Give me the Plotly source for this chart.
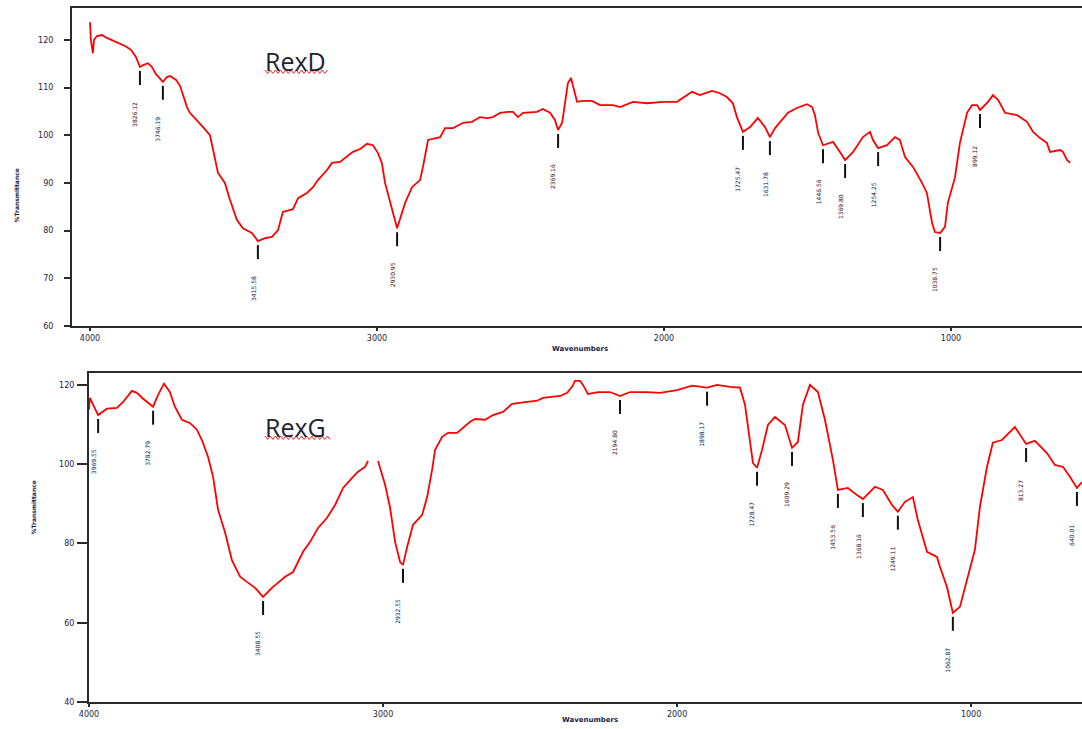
import plotly.graph_objects as go

W, H = 1082, 729

# ---------------- data ----------------
rexd_wavenumber = [4000, 3997, 3990, 3986, 3976, 3958, 3941, 3913, 3878, 3857, 3840, 3826, 3815, 3798,
                   3784, 3770, 3746, 3732, 3721, 3700, 3686, 3662, 3652, 3606, 3582, 3571, 3554, 3530,
                   3512, 3488, 3467, 3436, 3415, 3390, 3366, 3345, 3328, 3293, 3275, 3244, 3223, 3206,
                   3174, 3157, 3129, 3084, 3059, 3035, 3014, 2997, 2983, 2972, 2948, 2930, 2902, 2878,
                   2850, 2840, 2822, 2780, 2763, 2735, 2700, 2669, 2641, 2617, 2596, 2571, 2544, 2526,
                   2509, 2491, 2443, 2422, 2397, 2380, 2369, 2355, 2345, 2335, 2324, 2317, 2303, 2282,
                   2251, 2223, 2178, 2153, 2108, 2059, 2003, 1955, 1902, 1875, 1833, 1805, 1781, 1760,
                   1746, 1725, 1700, 1673, 1648, 1631, 1613, 1568, 1537, 1502, 1484, 1474, 1463, 1446,
                   1411, 1387, 1369, 1341, 1307, 1282, 1272, 1254, 1223, 1195, 1178, 1160, 1132, 1101,
                   1084, 1066, 1056, 1038, 1021, 1011, 986, 969, 944, 927, 909, 899, 871, 854, 836,
                   812, 770, 735, 714, 690, 666, 655, 620, 610, 596, 585]
rexd_transmittance = [123.7, 120.0, 117.2, 120.0, 120.8, 121.0, 120.4, 119.7, 118.7, 117.9, 116.4, 114.3,
                      114.7, 115.1, 114.3, 112.8, 111.2, 112.2, 112.4, 111.6, 110.3, 105.9, 104.7, 101.7,
                      100.0, 96.9, 92.1, 90.0, 86.4, 82.2, 80.5, 79.5, 77.8, 78.4, 78.7, 80.1, 83.9, 84.5,
                      86.8, 87.9, 89.1, 90.6, 92.7, 94.2, 94.4, 96.5, 97.1, 98.2, 97.9, 96.3, 94.2, 90.0,
                      84.9, 80.5, 85.8, 89.1, 90.6, 93.3, 99.0, 99.6, 101.5, 101.5, 102.6, 102.8, 103.8,
                      103.6, 103.8, 104.7, 104.9, 104.9, 103.8, 104.7, 104.9, 105.5, 104.7, 103.2, 101.1,
                      102.6, 106.7, 110.9, 112.0, 110.1, 107.0, 107.2, 107.2, 106.3, 106.3, 105.9, 107.0,
                      106.7, 107.0, 107.0, 109.1, 108.4, 109.3, 108.8, 108.0, 106.7, 103.8, 100.7, 101.7,
                      103.6, 101.7, 99.6, 101.5, 104.7, 105.7, 106.5, 105.9, 104.2, 100.5, 97.9, 98.6,
                      96.5, 94.8, 96.5, 99.6, 100.7, 99.0, 97.3, 97.9, 99.6, 99.0, 95.4, 93.3, 90.0, 87.9,
                      81.6, 79.7, 79.5, 80.8, 85.8, 91.2, 98.4, 104.7, 106.3, 106.3, 105.3, 107.0, 108.4,
                      107.4, 104.7, 104.2, 102.8, 100.7, 99.4, 98.4, 96.5, 96.9, 96.5, 94.8, 94.2]
rexd_peak_wavenumber = [3826, 3746, 3415, 2930, 2369, 1725, 1631, 1446, 1369, 1254, 1038, 899]
rexd_peak_transmittance = [114.3, 111.2, 77.8, 80.5, 101.1, 100.7, 99.6, 97.9, 94.8, 97.3, 79.5, 105.3]
rexd_peak_labels = ["3826.12", "3746.19", "3415.58", "2930.95", "2369.16", "1725.47", "1631.78",
                    "1446.56", "1369.80", "1254.25", "1038.75", "899.12"]

rexg_wavenumber = [4000, 3997, 3969, 3939, 3905, 3884, 3854, 3837, 3816, 3782, 3765, 3745, 3725, 3708,
                   3684, 3657, 3633, 3616, 3595, 3578, 3561, 3537, 3514, 3486, 3463, 3435, 3408, 3378,
                   3333, 3306, 3272, 3248, 3221, 3191, 3163, 3136, 3106, 3085, 3061, 3051, 3034, 3017,
                   2993, 2976, 2959, 2942, 2932, 2918, 2898, 2867, 2850, 2833, 2823, 2799, 2779, 2748,
                   2728, 2704, 2687, 2653, 2626, 2592, 2561, 2527, 2476, 2456, 2398, 2374, 2357, 2347,
                   2330, 2320, 2303, 2269, 2228, 2194, 2160, 2102, 2058, 2000, 1949, 1898, 1864, 1820,
                   1786, 1769, 1752, 1742, 1728, 1711, 1691, 1667, 1633, 1609, 1589, 1572, 1548, 1521,
                   1497, 1470, 1453, 1419, 1388, 1368, 1327, 1300, 1269, 1249, 1225, 1198, 1181, 1150,
                   1116, 1106, 1082, 1062, 1038, 1014, 987, 970, 946, 926, 895, 851, 813, 783, 742,
                   715, 687, 664, 640, 623]
rexg_transmittance = [113.7, 116.7, 112.4, 114.0, 114.2, 115.7, 118.5, 118.0, 116.5, 114.5, 117.5, 120.3,
                      118.2, 114.5, 111.2, 110.4, 108.7, 106.1, 101.8, 96.8, 88.5, 82.7, 75.8, 71.6,
                      70.3, 68.8, 66.5, 68.8, 71.6, 72.8, 77.9, 80.4, 83.9, 86.4, 89.7, 94.0, 96.5, 98.1,
                      99.3, 100.8, None, 100.8, 94.8, 89.0, 80.4, 75.3, 74.6, 79.1, 84.7, 87.2, 91.7, 98.6,
                      103.6, 106.9, 107.9, 107.9, 109.2, 110.7, 111.4, 111.2, 112.4, 113.2, 115.2, 115.5,
                      116.0, 116.7, 117.2, 118.0, 119.5, 121.0, 121.0, 120.0, 117.7, 118.2, 118.2, 117.2,
                      118.2, 118.2, 118.0, 118.7, 119.8, 119.3, 120.0, 119.5, 119.3, 115.0, 106.1, 100.3,
                      99.1, 103.6, 109.9, 111.9, 109.9, 104.1, 105.6, 115.0, 120.0, 118.2, 111.2, 101.1,
                      93.5, 94.0, 92.2, 91.2, 94.3, 93.5, 89.7, 88.0, 90.5, 91.7, 85.9, 77.9, 76.6, 74.1,
                      69.0, 62.5, 64.0, 70.8, 78.4, 89.2, 99.3, 105.4, 106.1, 109.4, 105.1, 105.9, 102.8,
                      99.8, 99.3, 96.8, 94.0, 95.5]
rexg_peak_wavenumber = [3969, 3782, 3408, 2932, 2194, 1898, 1728, 1609, 1453, 1368, 1249, 1062, 813, 640]
rexg_peak_transmittance = [112.4, 114.5, 66.5, 74.6, 117.2, 119.3, 99.1, 104.1, 93.5, 91.2, 88.0, 62.5,
                           105.1, 94.0]
rexg_peak_labels = ["3969.55", "3782.79", "3408.55", "2932.55", "2194.80", "1898.17", "1728.47",
                    "1609.29", "1453.56", "1368.16", "1249.11", "1062.87", "813.27", "640.01"]

x_tick_values = [4000, 3000, 2000, 1000]
x_tick_labels = ["4000", "3000", "2000", "1000"]
rexd_y_ticks = [60, 70, 80, 90, 100, 110, 120]
rexg_y_ticks = [40, 60, 80, 100, 120]

# ---------------- figure ----------------
AX = "#2b2b2b"
TXT = "#1c1c44"
fig = go.Figure()

fig.add_trace(go.Scatter(x=rexd_wavenumber, y=rexd_transmittance, mode="lines",
                         line=dict(color="#ff0000", width=1.8), xaxis="x", yaxis="y",
                         showlegend=False, hoverinfo="skip"))
fig.add_trace(go.Scatter(x=rexg_wavenumber, y=rexg_transmittance, mode="lines",
                         line=dict(color="#ff0000", width=1.8), xaxis="x2", yaxis="y2",
                         showlegend=False, hoverinfo="skip", connectgaps=False))

shapes = []
annotations = []


def add_peaks(wns, ts, labels, xr, yr):
    for wn, t, lab in zip(wns, ts, labels):
        shapes.append(dict(type="line", xref=xr, yref=yr, x0=wn, x1=wn,
                           ysizemode="pixel", yanchor=t, y0=-4, y1=-18,
                           line=dict(color="#111111", width=2)))
        annotations.append(dict(x=wn, y=t, xref=xr, yref=yr, text=lab, showarrow=False,
                                textangle=-90, xanchor="center", yanchor="middle",
                                xshift=-5, yshift=-47,
                                font=dict(size=6, color="#101030", family="DejaVu Sans")))


add_peaks(rexd_peak_wavenumber, rexd_peak_transmittance, rexd_peak_labels, "x", "y")
add_peaks(rexg_peak_wavenumber, rexg_peak_transmittance, rexg_peak_labels, "x2", "y2")


def px(xp):
    return xp / W


def py(yp):
    return 1 - yp / H


# sample names
for name, x0, ymid in [("RexD", 263, 61), ("RexG", 263, 427)]:
    annotations.append(dict(x=px(x0), y=py(ymid), xref="paper", yref="paper", text=name,
                            showarrow=False, xanchor="left", yanchor="middle",
                            font=dict(size=25, color="#222233", family="Open Sans")))

# wavy spell-check underlines
for x_start, x_end, y_top in [(265, 329, 70), (265, 332, 436)]:
    pts = []
    xx = x_start
    k = 0
    while xx <= x_end:
        pts.append((px(xx), py(y_top + (3.5 if k % 2 else 0))))
        xx += 2.6
        k += 1
    path = "M " + " L ".join(f"{a:.5f},{b:.5f}" for a, b in pts)
    shapes.append(dict(type="path", xref="paper", yref="paper", path=path,
                       line=dict(color="#ff2020", width=1)))

# axis titles
annotations += [
    dict(x=px(580), y=py(349), xref="paper", yref="paper", text="<b>Wavenumbers</b>",
         showarrow=False, font=dict(size=7, color=TXT, family="DejaVu Sans")),
    dict(x=px(590), y=py(726), xref="paper", yref="paper", text="<b>Wavenumbers</b>",
         showarrow=False, font=dict(size=7, color=TXT, family="DejaVu Sans")),
    dict(x=px(10), y=py(167), xref="paper", yref="paper", text="<b>%Transmittance</b>",
         textangle=-90, showarrow=False, font=dict(size=6, color=TXT, family="DejaVu Sans")),
    dict(x=px(27), y=py(537), xref="paper", yref="paper", text="<b>%Transmittance</b>",
         textangle=-90, showarrow=False, font=dict(size=6, color=TXT, family="DejaVu Sans")),
]

tickfont = dict(size=8, color=TXT, family="DejaVu Sans")
common_x = dict(showline=True, linecolor=AX, linewidth=2, mirror=True, showgrid=False,
                zeroline=False, ticks="outside", ticklen=3, tickwidth=1.5, tickcolor=AX,
                tickmode="array", tickvals=x_tick_values, ticktext=x_tick_labels,
                tickfont=tickfont, automargin=False)
common_y = dict(showline=True, linecolor=AX, linewidth=2, mirror=False, showgrid=False,
                zeroline=False, ticks="outside", tickwidth=1.5, tickcolor=AX,
                tickmode="array", tickfont=tickfont, automargin=False)

fig.update_layout(
    width=W, height=H, autosize=False,
    margin=dict(l=0, r=0, t=0, b=0, pad=0, autoexpand=False),
    paper_bgcolor="white", plot_bgcolor="white",
    xaxis=dict(domain=[px(72), 1.0], anchor="y", range=[4062.7, 543.6], **common_x),
    yaxis=dict(domain=[py(326), py(8)], anchor="x", range=[60, 126.67],
               tickvals=rexd_y_ticks, ticktext=[str(v) for v in rexd_y_ticks],
               ticklen=6, ticklabelstandoff=9, **common_y),
    xaxis2=dict(domain=[px(89), 1.0], anchor="y2", range=[4000, 622.8], **common_x),
    yaxis2=dict(domain=[py(702), py(373)], anchor="x2", range=[40, 123.0],
                tickvals=rexg_y_ticks, ticktext=[str(v) for v in rexg_y_ticks],
                ticklen=10, ticklabelstandoff=1, **common_y),
    shapes=shapes,
    annotations=annotations,
)

fig.write_html("out.html", config={"displayModeBar": False},
               post_script="document.body.style.margin='0';document.body.style.overflow='hidden';")
